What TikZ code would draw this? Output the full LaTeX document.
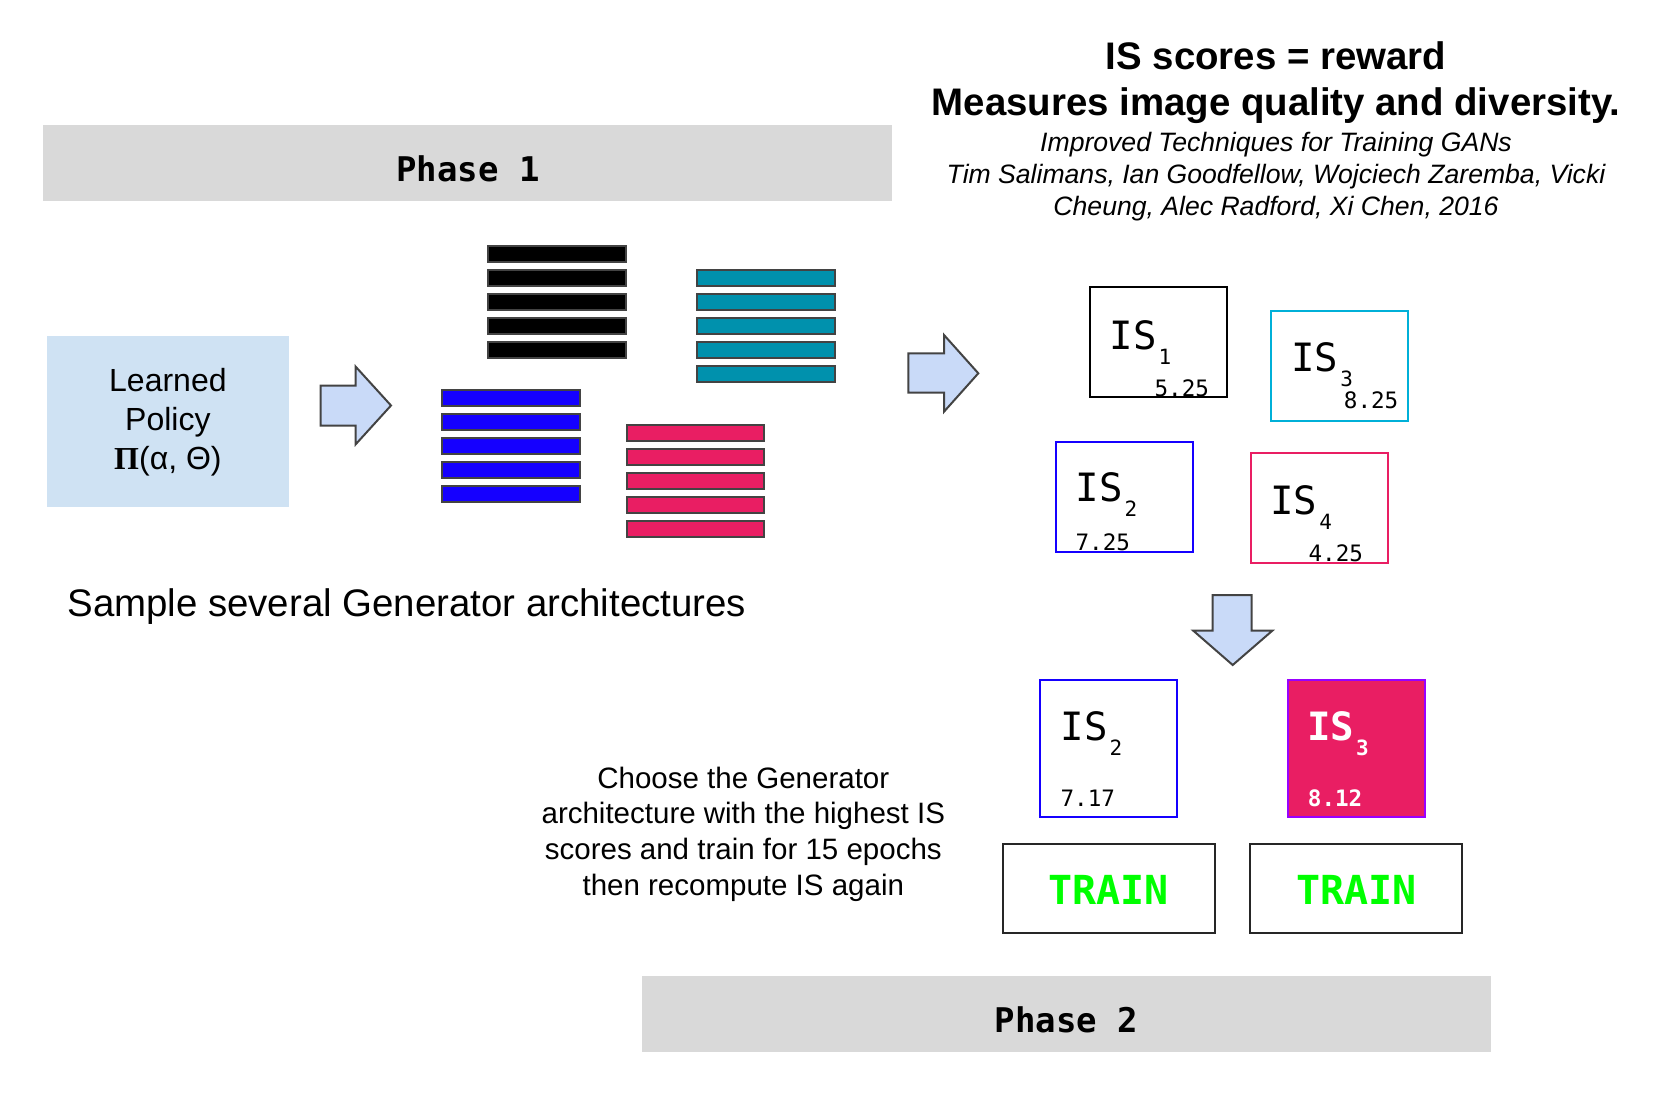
\documentclass[tikz,border=0pt]{standalone}
\usepackage{fontspec}
\setmainfont{Liberation Sans}
\newfontfamily\codefont{DejaVu Sans Mono}
\newfontfamily\serifpi{Liberation Serif}
\usetikzlibrary{positioning}

\definecolor{phasegray}{HTML}{D9D9D9}
\definecolor{policyblue}{HTML}{CFE2F3}
\definecolor{arrowblue}{HTML}{C9DAF8}
\definecolor{edgegray}{HTML}{434343}
\definecolor{tealbar}{HTML}{0091AD}
\definecolor{bluebar}{HTML}{1500FF}
\definecolor{pinkbar}{HTML}{E91E63}
\definecolor{cyanedge}{HTML}{00B0D8}
\definecolor{purpleedge}{HTML}{9900FF}
\definecolor{traingreen}{HTML}{00FF00}

\newcommand{\islab}[1]{IS\hspace{1pt}\raisebox{-7.5pt}{\fontsize{10.5pt}{12pt}\selectfont #1}}

\begin{document}
\begin{tikzpicture}[x=0.5pt,y=-0.5pt,
  phasebar/.style={fill=phasegray,inner sep=0pt,minimum width=424.5pt,minimum height=38pt,
    text height=19pt,font=\codefont\bfseries\fontsize{17pt}{20pt}\selectfont},
  bar/.style={draw=edgegray,line width=1pt},
  blockarrow/.style={fill=arrowblue,draw=edgegray,line width=1pt},
  isbox/.style={draw,line width=1pt,inner sep=0pt,minimum width=68.5pt,minimum height=55pt},
  islabel/.style={anchor=base west,inner sep=0pt,font=\codefont\fontsize{19.5pt}{22pt}\selectfont},
  score/.style={anchor=base west,inner sep=0pt,font=\codefont\fontsize{11.3pt}{13pt}\selectfont},
  trainbox/.style={draw=black!85,line width=1pt,inner sep=0pt,minimum width=106pt,minimum height=44.3pt,
    text height=16pt,text=traingreen,font=\codefont\bfseries\fontsize{20pt}{22pt}\selectfont}]
  \useasboundingbox (0,0) rectangle (1658,1102);

  % phase bars
  \node[phasebar] (phase1) at (467.9,162.9) {Phase 1};
  \node[phasebar] (phase2) at (1066.4,1013.5) {Phase 2};

  % headline and reference
  \node[anchor=north,inner sep=0pt,align=center,font=\bfseries\fontsize{19.2pt}{23pt}\selectfont]
    (headline) at (1276,41) {IS scores = reward\\Measures image quality and diversity.};
  \node[anchor=north,inner sep=0pt,align=center,font=\itshape\fontsize{13.3pt}{16pt}\selectfont]
    (paperref) at (1276,131.5) {Improved Techniques for Training GANs\\
    Tim Salimans, Ian Goodfellow, Wojciech Zaremba, Vicki\\
    Cheung, Alec Radford, Xi Chen, 2016};

  % policy
  \node[fill=policyblue,inner sep=0pt,minimum width=121.2pt,minimum height=85.5pt,align=center,
    font=\fontsize{16pt}{19.5pt}\selectfont] (policy) at (167.9,421.8)
    {Learned\\Policy\\{\serifpi\bfseries Π}(α, Θ)};
  \draw[blockarrow] (320.7,385.7) -- (355.7,385.7) -- (355.7,366.7) -- (391,405.5)
    -- (355.7,444.3) -- (355.7,425.7) -- (320.7,425.7) -- cycle;

  % sampled generators
  \foreach \x/\y/\col in {487.3/244.7/black, 696/268.7/tealbar, 441/389/bluebar, 625.7/424/pinkbar}
    \foreach \i in {0,...,4}
      \draw[bar,fill=\col] (\x+1,\y+1+24*\i) rectangle ++(137.7,16);
  \node[anchor=base west,inner sep=0pt,font=\fontsize{19.2pt}{23pt}\selectfont] (sample) at (67,616)
    {Sample several Generator architectures};

  \draw[blockarrow] (908.3,353.3) -- (944,353.3) -- (944,335) -- (978.3,373.3)
    -- (944,411.7) -- (944,392.7) -- (908.3,392.7) -- cycle;

  % IS scores
  \node[isbox,draw=black] (is1) at (1158.3,341.8) {};
  \node[isbox,draw=cyanedge] (is3) at (1339.5,365.5) {};
  \node[isbox,draw=bluebar] (is2) at (1124.2,497) {};
  \node[isbox,draw=pinkbar] (is4) at (1319.2,508.3) {};
  \node[islabel] (is1lab) at (1109.3,349) {\islab{1}};
  \node[islabel] (is3lab) at (1291,371) {\islab{3}};
  \node[islabel] (is2lab) at (1075.3,501.7) {\islab{2}};
  \node[islabel] (is4lab) at (1270,514) {\islab{4}};
  \node[score] (is1val) at (1154.2,396) {5.25};
  \node[score] (is3val) at (1343.5,408.3) {8.25};
  \node[score] (is2val) at (1075.2,550) {7.25};
  \node[score] (is4val) at (1308.2,561.7) {4.25};

  \draw[blockarrow] (1212.7,595) -- (1251.7,595) -- (1251.7,630.7) -- (1272.3,630.7)
    -- (1232.7,665) -- (1193.3,630.7) -- (1212.7,630.7) -- cycle;

  % best two
  \node[isbox,draw=bluebar,minimum height=68.3pt] (best2) at (1108.8,748.4) {};
  \node[isbox,draw=purpleedge,fill=pinkbar,minimum height=68.3pt] (best3) at (1356.3,748.4) {};
  \node[islabel] (best2lab) at (1060.3,740.7) {\islab{2}};
  \node[islabel,text=white,font=\codefont\bfseries\fontsize{19.5pt}{22pt}\selectfont] (best3lab) at (1306.7,740.7) {\islab{3}};
  \node[score] (best2val) at (1060.2,806) {7.17};
  \node[score,text=white,font=\codefont\bfseries\fontsize{11.3pt}{13pt}\selectfont] (best3val) at (1307.5,806) {8.12};
  \node[trainbox] (train2) at (1108.7,888.4) {TRAIN};
  \node[trainbox] (train3) at (1356.3,888.4) {TRAIN};

  \node[anchor=north,inner sep=0pt,align=center,font=\fontsize{14.75pt}{17.9pt}\selectfont]
    (choose) at (743.3,766.3) {Choose the Generator\\architecture with the highest IS\\
    scores and train for 15 epochs\\then recompute IS again};
\end{tikzpicture}
\end{document}
